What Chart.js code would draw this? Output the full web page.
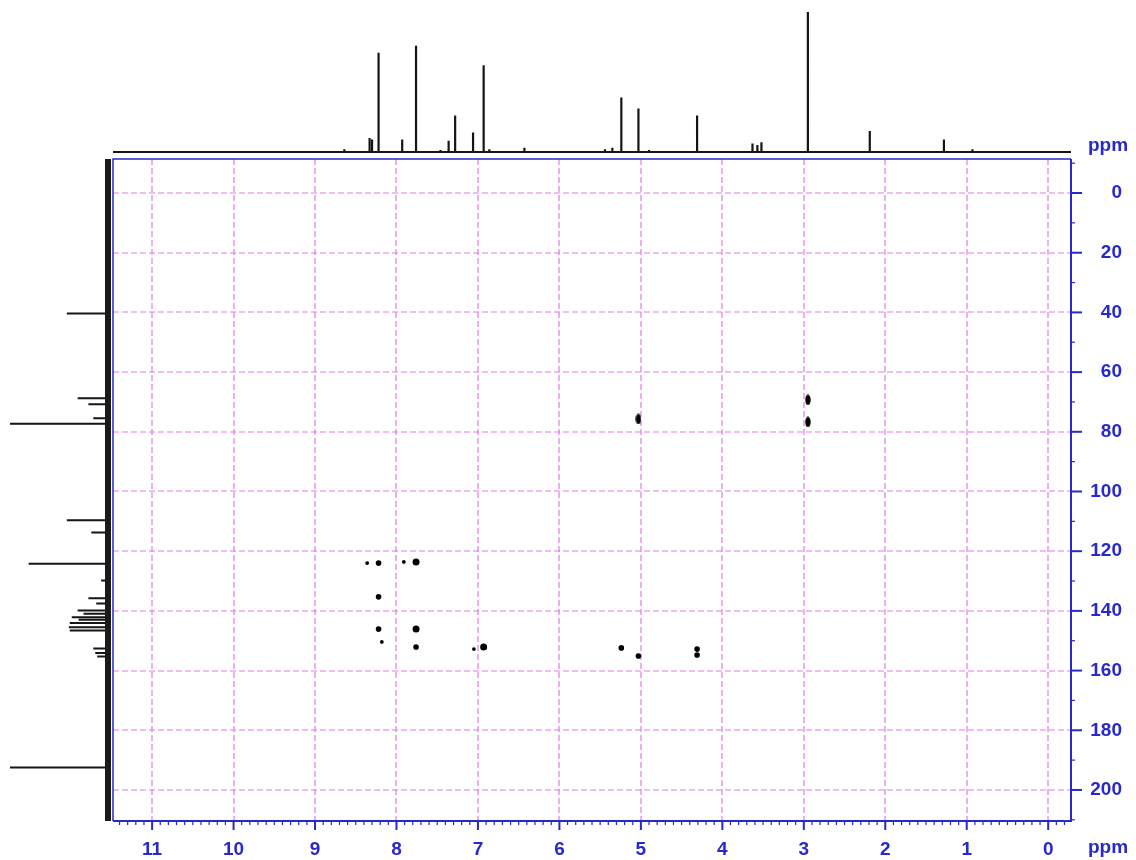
<!DOCTYPE html>
<html>
<head>
<meta charset="utf-8">
<script src="https://cdn.jsdelivr.net/npm/chart.js@4.4.1/dist/chart.umd.min.js"></script>
<style>
  html, body { margin: 0; padding: 0; background: #fff; }
  #wrap { position: relative; width: 1136px; height: 860px; }
  canvas { position: absolute; left: 0; top: 0; }
</style>
</head>
<body>
<div id="wrap">
  <canvas id="hmbc" width="1136" height="860"></canvas>
  <canvas id="proton" width="1136" height="158"></canvas>
  <canvas id="carbon" width="112" height="860"></canvas>
</div>
<script>
// axis ranges (ppm)
const X_MIN = -0.28, X_MAX = 11.48;   // 1H, reversed
const Y_MIN = -11.4, Y_MAX = 210.4;   // 13C, reversed

// tick labels
const xTicks = [0, 1, 2, 3, 4, 5, 6, 7, 8, 9, 10, 11];
const yTicks = [0, 20, 40, 60, 80, 100, 120, 140, 160, 180, 200];

// 1H projection (top): peak positions and relative heights
const hPpm = [8.64, 8.33, 8.30, 8.22, 7.93, 7.76, 7.46, 7.36, 7.28, 7.06, 6.93, 6.86,
              6.43, 5.44, 5.35, 5.24, 5.03, 4.90, 4.31, 3.63, 3.57, 3.52, 2.95, 2.19, 1.28, 0.93];
const hInt = [2, 10, 9, 71, 9, 76, 1.5, 8, 26, 14, 62, 2,
              3, 2, 3, 39, 31, 1.5, 26, 6, 5, 7, 100, 15, 9, 2];

// 13C projection (left): peak positions and relative heights
const cPpm = [40.4, 68.8, 70.8, 75.5, 77.3, 109.6, 113.7, 124.2, 129.8, 135.8, 137.5,
              139.9, 141.0, 142.1, 143.0, 144.1, 145.5, 146.6, 152.6, 154.1, 155.3, 192.5];
const cInt = [42, 31, 20, 15, 100, 42, 17, 81, 7, 20, 12,
              31, 25, 37, 30, 39, 40, 39, 15, 13, 11, 100];

// HMBC cross peaks (1H ppm, 13C ppm, relative size 1..3)
const crossH = [8.36, 8.22, 7.91, 7.76, 8.22, 8.22, 8.18, 7.76, 7.76, 7.05, 6.93, 5.24, 5.03, 4.31, 4.31];
const crossC = [124.0, 124.0, 123.6, 123.6, 135.3, 146.1, 150.4, 146.1, 152.1, 152.8, 152.1, 152.4, 155.1, 152.8, 154.8];
const crossSize = [1, 2, 1, 3, 2, 2, 1, 3, 2, 1, 3, 2, 2, 2, 2];

// elongated cross peaks
const longH = [2.95, 2.95, 5.03];
const longC = [69.3, 76.7, 75.7];

const BLUE = '#2828cc';
const GRID = '#e07ce0';
const FONT = "'Liberation Sans', Arial, sans-serif";

// ellipse marker for the stretched contours
function ellipseMarker(w, h) {
  const c = document.createElement('canvas');
  c.width = w; c.height = h;
  const g = c.getContext('2d');
  g.fillStyle = '#000';
  g.beginPath();
  g.ellipse(w / 2, h / 2, w / 2 - 0.3, h / 2 - 0.3, 0, 0, Math.PI * 2);
  g.fill();
  return c;
}

const hmbcFrame = {
  id: 'hmbcFrame',
  beforeDatasetsDraw(chart) {
    const { ctx, chartArea: a, scales: { x, y } } = chart;
    ctx.save();
    ctx.strokeStyle = GRID;
    ctx.lineWidth = 1.2;
    ctx.setLineDash([6, 3]);
    xTicks.forEach(v => {
      const px = Math.round(x.getPixelForValue(v));
      ctx.beginPath(); ctx.moveTo(px, a.top); ctx.lineTo(px, a.bottom); ctx.stroke();
    });
    yTicks.forEach(v => {
      const py = Math.round(y.getPixelForValue(v));
      ctx.beginPath(); ctx.moveTo(a.left, py); ctx.lineTo(a.right, py); ctx.stroke();
    });
    ctx.restore();
  },
  afterDatasetsDraw(chart) {
    const { ctx, chartArea: a, scales: { x, y } } = chart;
    ctx.save();
    ctx.strokeStyle = BLUE;
    ctx.lineWidth = 1.5;
    ctx.beginPath();
    ctx.moveTo(a.left, a.bottom); ctx.lineTo(a.left, a.top); ctx.lineTo(a.right, a.top);
    ctx.stroke();
    ctx.lineWidth = 2;
    ctx.beginPath();
    ctx.moveTo(a.left, a.bottom); ctx.lineTo(a.right, a.bottom); ctx.lineTo(a.right, a.top);
    ctx.stroke();

    // bottom ticks, every 0.1 ppm
    for (let i = -2; i <= 114; i++) {
      const px = x.getPixelForValue(i / 10);
      const major = i % 10 === 0;
      ctx.lineWidth = major ? 2 : 1.2;
      ctx.beginPath();
      ctx.moveTo(px, a.bottom);
      ctx.lineTo(px, a.bottom + (major ? 9 : 4));
      ctx.stroke();
    }
    // right ticks, every 10 ppm
    for (let i = -1; i <= 21; i++) {
      const py = y.getPixelForValue(i * 10);
      const major = i % 2 === 0;
      ctx.lineWidth = major ? 2 : 1.2;
      ctx.beginPath();
      ctx.moveTo(a.right, py);
      ctx.lineTo(a.right + (major ? 11 : 4), py);
      ctx.stroke();
    }

    ctx.fillStyle = BLUE;
    ctx.font = 'bold 19px ' + FONT;
    ctx.textAlign = 'center';
    ctx.textBaseline = 'middle';
    ctx.fillText('ppm', 1108, 146);
    ctx.fillText('ppm', 1108, 848);
    ctx.restore();
  }
};

const radius = [0, 1.9, 2.8, 3.5];

new Chart(document.getElementById('hmbc'), {
  type: 'scatter',
  data: {
    datasets: [{
      data: crossH.map((h, i) => ({ x: h, y: crossC[i] })),
      pointRadius: ctx => radius[crossSize[ctx.dataIndex]],
      pointBackgroundColor: '#000',
      pointBorderWidth: 0
    }, {
      data: longH.map((h, i) => ({ x: h, y: longC[i] })),
      pointStyle: ellipseMarker(6, 11),
      pointRadius: 6
    }]
  },
  options: {
    responsive: false,
    animation: false,
    layout: { padding: { left: 113, top: 159, right: 14, bottom: 0 } },
    plugins: { legend: { display: false }, tooltip: { enabled: false } },
    scales: {
      x: {
        type: 'linear', position: 'bottom', reverse: true,
        min: X_MIN, max: X_MAX,
        grid: { display: false }, border: { display: false },
        afterBuildTicks: s => { s.ticks = xTicks.map(v => ({ value: v })); },
        afterFit: s => { s.height = 39; },
        ticks: { color: BLUE, padding: 9, font: { family: FONT, size: 19, weight: 'bold' }, maxRotation: 0 }
      },
      y: {
        type: 'linear', position: 'right', reverse: true,
        min: Y_MIN, max: Y_MAX,
        grid: { display: false }, border: { display: false },
        afterBuildTicks: s => { s.ticks = yTicks.map(v => ({ value: v })); },
        afterFit: s => { s.width = 51; },
        ticks: { color: BLUE, padding: 19, crossAlign: 'far', font: { family: FONT, size: 19, weight: 'bold' } }
      }
    }
  },
  plugins: [hmbcFrame]
});

// top projection
const hPts = [{ x: X_MAX, y: 0 }];
hPpm.forEach((p, i) => { hPts.push({ x: p, y: 0 }, { x: p, y: hInt[i] }, { x: p, y: 0 }); });
hPts.push({ x: X_MIN, y: 0 });

new Chart(document.getElementById('proton'), {
  type: 'scatter',
  data: {
    datasets: [{
      data: hPts, showLine: true, pointRadius: 0,
      borderColor: '#151515', borderWidth: 2.2, tension: 0, clip: false
    }]
  },
  options: {
    responsive: false,
    animation: false,
    layout: { padding: { left: 113, right: 65, top: 0, bottom: 6 } },
    plugins: { legend: { display: false }, tooltip: { enabled: false } },
    scales: {
      x: { type: 'linear', reverse: true, min: X_MIN, max: X_MAX, display: false },
      y: { type: 'linear', min: 0, max: 108.6, display: false }
    }
  }
});

// left projection
const cPts = [];
cPpm.forEach((p, i) => { cPts.push({ x: 0, y: p }, { x: cInt[i], y: p }, { x: 0, y: p }); });

new Chart(document.getElementById('carbon'), {
  type: 'scatter',
  data: {
    datasets: [{
      data: [{ x: 0, y: Y_MIN }, { x: 0, y: Y_MAX }],
      showLine: true, pointRadius: 0, borderColor: '#1a1a1a', borderWidth: 6, clip: false
    }, {
      data: cPts, showLine: true, pointRadius: 0,
      borderColor: '#151515', borderWidth: 2, tension: 0, clip: false
    }]
  },
  options: {
    responsive: false,
    animation: false,
    layout: { padding: { left: 0, right: 4, top: 159, bottom: 39 } },
    plugins: { legend: { display: false }, tooltip: { enabled: false } },
    scales: {
      x: { type: 'linear', reverse: true, min: 0, max: 110.2, display: false },
      y: { type: 'linear', reverse: true, min: Y_MIN, max: Y_MAX, display: false }
    }
  }
});
</script>
</body>
</html>
